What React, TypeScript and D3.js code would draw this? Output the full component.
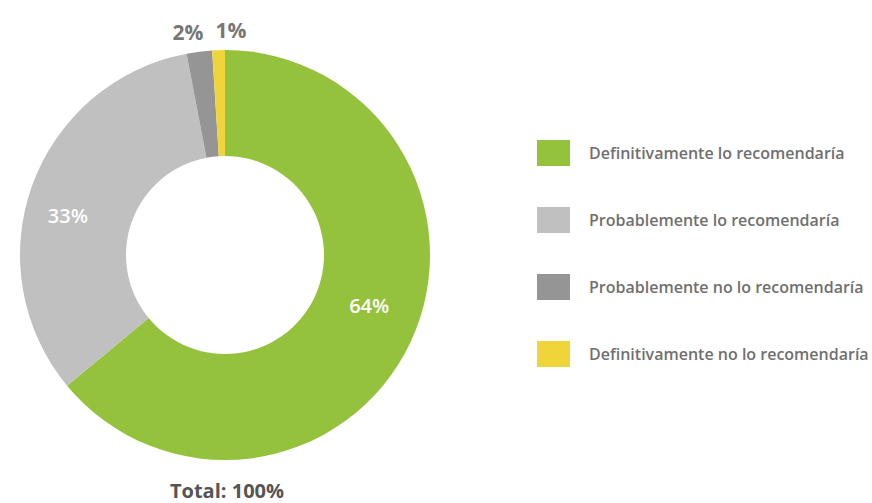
import React from "react";
import * as d3 from "d3";

const categories = [
  "Definitivamente lo recomendaría",
  "Probablemente lo recomendaría",
  "Probablemente no lo recomendaría",
  "Definitivamente no lo recomendaría",
];
const values = [64, 33, 2, 1];
const colors = ["#95c23d", "#c0c0c0", "#959595", "#efd43a"];
const totalLabel = "Total: 100%";

const W = 872;
const H = 503;
const cx = 225;
const cy = 255;
const outerR = 205;
const innerR = 99;
const FONT = "'Open Sans', 'Noto Sans', sans-serif";

export default function App() {
  const pie = d3.pie<number>().sort(null).value((d) => d)(values);
  const arc = d3.arc<d3.PieArcDatum<number>>().innerRadius(innerR).outerRadius(outerR);

  const inside: { x: number; y: number; t: string }[] = [];
  const outside: { x: number; y: number; t: string }[] = [];
  pie.forEach((p) => {
    const share = p.value / d3.sum(values);
    const mid = (p.startAngle + p.endAngle) / 2;
    if (share > 0.1) {
      const a = mid - 0.1;
      const r = share > 0.5 ? 153 : 162;
      inside.push({ x: cx + r * Math.sin(a), y: cy - r * Math.cos(a), t: `${p.value}%` });
    } else {
      const r = 225;
      outside.push({ x: cx + r * Math.sin(mid) + 2, y: cy - r * Math.cos(mid), t: `${p.value}%` });
    }
  });
  // resolve overlaps of outside labels symmetrically
  const minDist = 43;
  for (let i = 1; i < outside.length; i++) {
    const prev = outside[i - 1];
    const cur = outside[i];
    const d = cur.x - prev.x;
    if (d < minDist) {
      const push = (minDist - d) / 2;
      prev.x -= push;
      cur.x += push;
    }
  }

  const legendY = d3.scalePoint<string>().domain(categories).range([153, 354]);

  return (
    <svg width={W} height={H} style={{ position: "absolute", left: 0, top: 0 }}>
      <rect width={W} height={H} fill="#fff" />
      <g transform={`translate(${cx},${cy})`}>
        {pie.map((p, i) => (
          <path key={i} d={arc(p) || ""} fill={colors[i]} />
        ))}
      </g>
      {inside.map((l, i) => (
        <text key={i} x={l.x} y={l.y} textAnchor="middle" dominantBaseline="central" fill="#fff"
          fontFamily={FONT} fontWeight={600} fontSize={20}>{l.t}</text>
      ))}
      {outside.map((l, i) => (
        <text key={i} x={l.x} y={l.y} textAnchor="middle" dominantBaseline="central" fill="#777"
          fontFamily={FONT} fontWeight={700} fontSize={21}>{l.t}</text>
      ))}
      <text x={227} y={498} textAnchor="middle" fill="#555"
        fontFamily={FONT} fontWeight={700} fontSize={20}>{totalLabel}</text>
      {categories.map((c, i) => (
        <g key={c} transform={`translate(537,${legendY(c)})`}>
          <rect x={0} y={-13} width={33} height={26} fill={colors[i]} />
          <text x={52} y={0} dominantBaseline="central" fill="#707070" fontFamily={FONT}
            fontWeight={600} fontSize={16}>{c}</text>
        </g>
      ))}
    </svg>
  );
}
